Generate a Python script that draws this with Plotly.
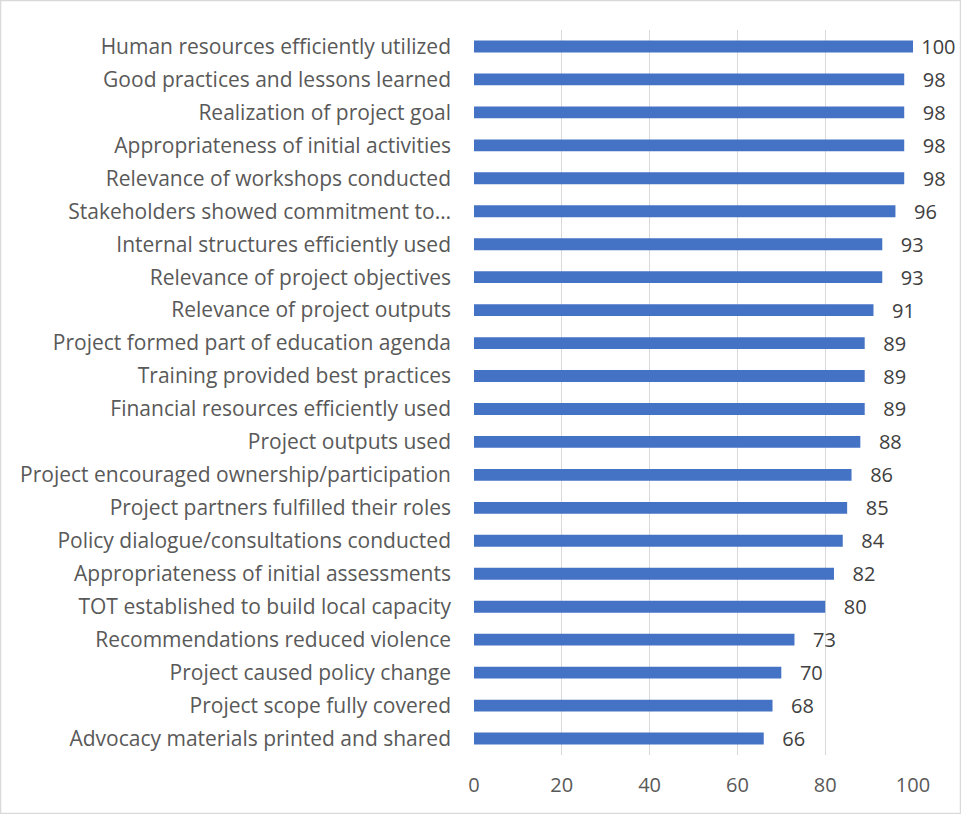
import plotly.graph_objects as go

categories = [
    "Human resources efficiently utilized",
    "Good practices and lessons learned",
    "Realization of project goal",
    "Appropriateness of initial activities",
    "Relevance of workshops conducted",
    "Stakeholders showed commitment to…",
    "Internal structures efficiently used",
    "Relevance of project objectives",
    "Relevance of project outputs",
    "Project formed part of education agenda",
    "Training provided best practices",
    "Financial resources efficiently used",
    "Project outputs used",
    "Project encouraged ownership/participation",
    "Project partners fulfilled their roles",
    "Policy dialogue/consultations conducted",
    "Appropriateness of initial assessments",
    "TOT established to build local capacity",
    "Recommendations reduced violence",
    "Project caused policy change",
    "Project scope fully covered",
    "Advocacy materials printed and shared",
]
values = [100, 98, 98, 98, 98, 96, 93, 93, 91, 89, 89, 89, 88, 86, 85, 84, 82, 80, 73, 70, 68, 66]
tick_vals = [0, 20, 40, 60, 80, 100]

W, H = 961, 814
ml, mr, mt, mb = 474, 48, 30, 59
pw, ph = W - ml - mr, H - mt - mb
FONT = "Open Sans"
FS = 21

labels = [(" " if v >= 100 else "   ") + str(v) for v in values]

fig = go.Figure(go.Bar(
    y=categories,
    x=values,
    orientation="h",
    width=0.36,
    marker=dict(color="#4472C4", line=dict(width=0)),
    text=labels,
    texttemplate="%{text}",
    textposition="outside",
    constraintext="none",
    textfont=dict(family=FONT, size=FS - 1, color="#404040"),
    cliponaxis=False,
))

fig.update_layout(
    width=W, height=H,
    margin=dict(l=ml, r=mr, t=mt, b=mb),
    paper_bgcolor="white",
    plot_bgcolor="white",
    showlegend=False,
    font=dict(family=FONT, size=FS, color="#595959"),
    xaxis=dict(
        range=[0, 100],
        tickvals=tick_vals,
        showgrid=True,
        gridcolor="#D9D9D9",
        gridwidth=1.3,
        zeroline=False,
        showline=False,
        tickfont=dict(family=FONT, size=FS - 1, color="#595959"),
        ticks="",
        ticklabelstandoff=16,
    ),
    yaxis=dict(
        categoryorder="array",
        categoryarray=categories[::-1],
        showgrid=False,
        ticks="",
        ticklabelstandoff=22,
        tickfont=dict(family=FONT, size=FS, color="#595959"),
    ),
    shapes=[dict(
        type="rect", xref="paper", yref="paper",
        x0=-ml / pw + 0.5 / pw, x1=1 + (mr - 0.5) / pw,
        y0=-mb / ph + 0.5 / ph, y1=1 + (mt - 0.5) / ph,
        line=dict(color="#D9D9D9", width=1.5),
        fillcolor="rgba(0,0,0,0)",
        layer="below",
    )],
)

fig.write_html(
    "out.html",
    config={"displayModeBar": False},
    post_script="document.body.style.margin='0';document.body.style.padding='0';",
)
